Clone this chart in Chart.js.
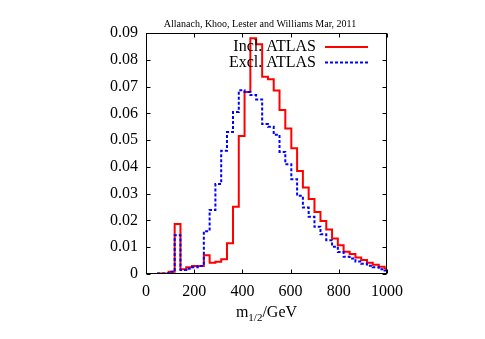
<!DOCTYPE html>
<html>
<head>
<meta charset="utf-8">
<script src="https://cdn.jsdelivr.net/npm/chart.js@4.4.1/dist/chart.umd.min.js"></script>
<style>
  html, body { margin: 0; padding: 0; background: #fff; }
</style>
</head>
<body>
<canvas id="chart" width="485" height="339"></canvas>
<script>
// m_1/2 distributions, inclusive vs exclusive ATLAS search

// left edges of the bins (last entry closes the last bin), GeV
const binEdges = [46, 70, 94, 119, 143, 167, 191, 215, 240, 264, 288, 312, 336, 361, 385,
  409, 433, 457, 482, 506, 530, 554, 578, 603, 627, 651, 675, 699, 724, 748, 772, 796,
  820, 845, 869, 893, 917, 941, 966, 990, 1014];

const inclAtlas = [0.0002, 0.0002, 0.0008, 0.0187, 0.0018, 0.0025, 0.0030, 0.0030, 0.0070, 0.0042,
  0.0046, 0.0055, 0.0115, 0.0251, 0.0515, 0.0680, 0.0880, 0.0858, 0.0737, 0.0727,
  0.0685, 0.0612, 0.0543, 0.0470, 0.0385, 0.0323, 0.0280, 0.0232, 0.0198, 0.0166,
  0.0133, 0.0107, 0.0083, 0.0075, 0.0062, 0.0052, 0.0042, 0.0035, 0.0027, 0.0021];

const exclAtlas = [0.0002, 0.0002, 0.0008, 0.0145, 0.0015, 0.0020, 0.0025, 0.0030, 0.0160, 0.0239,
  0.0336, 0.0460, 0.0530, 0.0605, 0.0686, 0.0680, 0.0668, 0.0652, 0.0560, 0.0550,
  0.0520, 0.0456, 0.0410, 0.0354, 0.0292, 0.0248, 0.0214, 0.0176, 0.0148, 0.0126,
  0.0102, 0.0082, 0.0064, 0.0058, 0.0047, 0.0038, 0.0031, 0.0025, 0.0018, 0.0013];

const xTicks = [0, 200, 400, 600, 800, 1000];
const yTicks = [0, 0.01, 0.02, 0.03, 0.04, 0.05, 0.06, 0.07, 0.08, 0.09];

const seriesNames = ['Incl. ATLAS', 'Excl. ATLAS'];
const plotTitle = 'Allanach, Khoo, Lester and Williams Mar, 2011';

const SERIF = "'Liberation Serif', 'DejaVu Serif', serif";
const BLUE_DASH = [3, 2];

// histogram -> step points at the left edges
function toSteps(vals) {
  const pts = vals.map((v, i) => ({ x: binEdges[i], y: v }));
  pts.push({ x: binEdges[vals.length], y: vals[vals.length - 1] });
  return pts;
}

// gnuplot style frame, inward ticks, title, axis label and legend
const gnuplotDecor = {
  id: 'gnuplotDecor',
  afterDraw(chart) {
    const { ctx, chartArea: a } = chart;
    const sx = chart.scales.x, sy = chart.scales.y;
    const L = Math.round(a.left) + 0.5, R = Math.round(a.right) - 0.5;
    const T = Math.round(a.top) + 0.5, B = Math.round(a.bottom) - 0.5;
    const tick = 4;

    ctx.save();
    ctx.strokeStyle = '#000';
    ctx.lineWidth = 1;
    ctx.setLineDash([]);
    ctx.strokeRect(L, T, R - L, B - T);

    ctx.beginPath();
    xTicks.forEach(v => {
      const px = Math.round(sx.getPixelForValue(v)) + 0.5;
      ctx.moveTo(px, B); ctx.lineTo(px, B - tick);
      ctx.moveTo(px, T); ctx.lineTo(px, T + tick);
    });
    yTicks.forEach(v => {
      const py = Math.round(sy.getPixelForValue(v)) + 0.5;
      ctx.moveTo(L, py); ctx.lineTo(L + tick, py);
      ctx.moveTo(R, py); ctx.lineTo(R - tick, py);
    });
    ctx.stroke();

    // title
    ctx.fillStyle = '#000';
    ctx.font = '10px ' + SERIF;
    ctx.textAlign = 'center';
    ctx.textBaseline = 'alphabetic';
    ctx.fillText(plotTitle, 260, 27);

    // x axis label m_{1/2}/GeV
    const big = '16px ' + SERIF, small = '11px ' + SERIF;
    ctx.textAlign = 'left';
    ctx.font = big;
    const wM = ctx.measureText('m').width;
    const wU = ctx.measureText('/GeV').width;
    ctx.font = small;
    const wS = ctx.measureText('1/2').width;
    let x0 = (a.left + a.right) / 2 - (wM + wS + wU) / 2;
    const base = 317;
    ctx.font = big;
    ctx.fillText('m', x0, base);
    ctx.font = small;
    ctx.fillText('1/2', x0 + wM, base + 4);
    ctx.font = big;
    ctx.fillText('/GeV', x0 + wM + wS, base);

    // legend
    const rows = [
      { ds: chart.data.datasets[0], y: 47 },
      { ds: chart.data.datasets[1], y: 62.5 }
    ];
    ctx.font = big;
    ctx.textAlign = 'right';
    ctx.textBaseline = 'middle';
    rows.forEach(r => {
      ctx.fillStyle = '#000';
      ctx.fillText(r.ds.label, 316, r.y);
      ctx.strokeStyle = r.ds.borderColor;
      ctx.lineWidth = r.ds.borderWidth;
      ctx.setLineDash(r.ds.borderDash || []);
      ctx.beginPath();
      ctx.moveTo(325, r.y);
      ctx.lineTo(368, r.y);
      ctx.stroke();
    });
    ctx.restore();
  }
};

new Chart(document.getElementById('chart'), {
  type: 'line',
  data: {
    datasets: [
      {
        label: seriesNames[0],
        data: toSteps(inclAtlas),
        borderColor: '#ff0000',
        borderWidth: 2,
        stepped: 'before',
        pointRadius: 0,
        fill: false,
        order: 1
      },
      {
        label: seriesNames[1],
        data: toSteps(exclAtlas),
        borderColor: '#0000ff',
        borderWidth: 2,
        borderDash: BLUE_DASH,
        stepped: 'before',
        pointRadius: 0,
        fill: false,
        order: 0
      }
    ]
  },
  options: {
    responsive: false,
    animation: false,
    layout: { padding: { left: 0, right: 98, top: 33, bottom: 0 } },
    plugins: {
      legend: { display: false },
      title: { display: false },
      tooltip: { enabled: false }
    },
    scales: {
      x: {
        type: 'linear',
        min: 0,
        max: 1000,
        afterFit: s => { s.height = 65; },
        afterBuildTicks: s => { s.ticks = xTicks.map(v => ({ value: v })); },
        ticks: {
          color: '#000',
          font: { family: SERIF, size: 16 },
          padding: 8,
          maxRotation: 0,
          autoSkip: false,
          callback: v => String(v)
        },
        grid: { display: false, drawTicks: false },
        border: { display: false }
      },
      y: {
        type: 'linear',
        min: 0,
        max: 0.09,
        afterFit: s => { s.width = 146; },
        afterBuildTicks: s => { s.ticks = yTicks.map(v => ({ value: v })); },
        ticks: {
          color: '#000',
          font: { family: SERIF, size: 16 },
          padding: 8,
          autoSkip: false,
          callback: v => (v === 0 ? '0' : v.toFixed(2))
        },
        grid: { display: false, drawTicks: false },
        border: { display: false }
      }
    }
  },
  plugins: [gnuplotDecor]
});
</script>
</body>
</html>
